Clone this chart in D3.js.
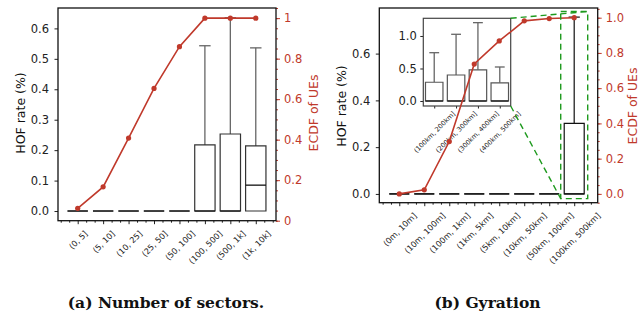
<!DOCTYPE html>
<html>
<head>
<meta charset="utf-8">
<script src="https://d3js.org/d3.v7.min.js"></script>
<style>
  body { margin: 0; background: #fff; }
  text { font-family: "DejaVu Sans", sans-serif; }
  .caption { font-family: "DejaVu Serif", serif; font-weight: bold; }
</style>
</head>
<body>
<div id="chart"></div>
<script>
// ---- data ----
const catsA = ["(0, 5]", "(5, 10]", "(10, 25]", "(25, 50]", "(50, 100]", "(100, 500]", "(500, 1k]", "(1k, 10k]"];
const ecdfA = [0.061, 0.167, 0.408, 0.653, 0.859, 1.0, 1.0, 1.0];
const q3A = [0, 0, 0, 0, 0, 0.217, 0.253, 0.214];
const medA = [0, 0, 0, 0, 0, 0, 0, 0.085];
const whiskA = [0, 0, 0, 0, 0, 0.543, 0.635, 0.536];

const catsB = ["(0m, 10m]", "(10m, 100m]", "(100m, 1km]", "(1km, 5km]", "(5km, 10km]", "(10km, 50km]", "(50km, 100km]", "(100km, 500km]"];
const ecdfB = [0.0, 0.023, 0.297, 0.737, 0.868, 0.982, 0.995, 1.0];
const q3B = [0, 0, 0, 0, 0, 0, 0, 0.302];
const medB = [0, 0, 0, 0, 0, 0, 0, 0];
const whiskB = [0, 0, 0, 0, 0, 0, 0, 0.756];

const catsIn = ["(100km, 200km]", "(200km, 300km]", "(300km, 400km]", "(400km, 500km]"];
const q3In = [0.288, 0.40, 0.48, 0.28];
const medIn = [0, 0, 0, 0];
const whiskIn = [0.743, 1.026, 1.205, 0.523];

const hofTicksA = [0, 0.1, 0.2, 0.3, 0.4, 0.5, 0.6];
const ecdfTicksA = [0, 0.2, 0.4, 0.6, 0.8, 1];
const hofTicksB = [0, 0.2, 0.4, 0.6];
const ecdfTicksB = [0, 0.2, 0.4, 0.6, 0.8, 1.0];
const inTicks = [0, 0.5, 1.0];

const RED = "#c0392b";
const GREEN = "#1e9a1e";
const W = 639, H = 320;

const svg = d3.select("#chart").append("svg")
  .attr("width", W).attr("height", H);

function styleAxis(g, color, fs) {
  g.select(".domain").remove();
  g.selectAll("line").attr("stroke", color).attr("stroke-width", 1);
  g.selectAll("text").attr("fill", color).style("font-size", fs + "px")
    .style("font-family", "DejaVu Sans");
}

function minorsFor(dom, step) {
  let out = [];
  for (let v = Math.ceil(dom[0] / step) * step; v <= dom[1] + 1e-9; v += step) {
    out.push(Math.round(v * 1000) / 1000);
  }
  return out;
}

function xAxis(g, x, cats, y, fs, top, tickLen, minorLen) {
  let n = cats.length;
  let minors = [];
  for (let i = -1; i <= n; i++) {
    [1/3, 2/3].forEach(f => {
      let v = i + f;
      if (v >= x.domain()[0] && v <= x.domain()[1]) minors.push(v);
    });
  }
  if (minorLen > 0) {
    g.append("g").attr("transform", `translate(0,${y})`)
      .call(d3.axisBottom(x).tickValues(minors).tickSize(minorLen).tickFormat(""))
      .call(a => styleAxis(a, "#222", fs));
  }
  let ax = g.append("g").attr("transform", `translate(0,${y})`)
    .call(d3.axisBottom(x).tickValues(d3.range(n)).tickSize(tickLen).tickSizeOuter(0)
      .tickFormat(i => cats[i]))
    .call(a => styleAxis(a, "#222", fs));
  // rotated labels, centred under the tick like matplotlib's rotation=45
  ax.selectAll("text").each(function () {
    let t = d3.select(this);
    let w = this.getComputedTextLength();
    let hh = (w + fs) * Math.SQRT1_2;
    t.attr("y", 0).attr("dy", null)
      .attr("dominant-baseline", "central")
      .attr("text-anchor", "middle")
      .attr("transform", `translate(0,${top + hh / 2}) rotate(-45)`);
  });
}

function boxes(g, x, y, q3, med, whisk, boxCol, whiskCol, bw, cw) {
  q3.forEach((v, i) => {
    let cx = x(i);
    let xl = x(i - bw / 2), xr = x(i + bw / 2);
    if (whisk[i] > v) {
      g.append("line")
        .attr("x1", cx).attr("x2", cx)
        .attr("y1", y(v)).attr("y2", y(whisk[i]))
        .attr("stroke", whiskCol).attr("stroke-width", 1.3);
      g.append("line")
        .attr("x1", x(i - cw / 2)).attr("x2", x(i + cw / 2))
        .attr("y1", y(whisk[i])).attr("y2", y(whisk[i]))
        .attr("stroke", whiskCol).attr("stroke-width", 1.3);
    }
    g.append("path")
      .attr("d", `M${xl},${y(0)}H${xr}V${y(v)}H${xl}Z`)
      .attr("fill", "#fff")
      .attr("stroke", boxCol).attr("stroke-width", 1.2);
    g.append("line")
      .attr("x1", xl).attr("x2", xr)
      .attr("y1", y(med[i])).attr("y2", y(med[i]))
      .attr("stroke", "#111").attr("stroke-width", 1.3);
  });
}

function panel(c) {
  let g = svg.append("g");
  let x = d3.scaleLinear().domain(c.catDomain).range([c.x0, c.x1]);
  let y = d3.scaleLinear().domain(c.hofDomain).range([c.y1, c.y0]);
  let y2 = d3.scaleLinear().domain(c.ecdfDomain).range([c.y1, c.y0]);

  boxes(g, x, y, c.q3, c.med, c.whisk, c.boxCol, c.whiskCol, 0.8, 0.45);

  g.append("g").attr("transform", `translate(${c.x0},0)`)
    .call(d3.axisLeft(y).tickValues(c.hofTicks).tickSize(3.5).tickPadding(5.5)
      .tickFormat(d3.format(".1f")))
    .call(a => styleAxis(a, "#222", 11.5));

  g.append("g").attr("transform", `translate(${c.x1},0)`)
    .call(d3.axisRight(y2).tickValues(minorsFor(c.ecdfDomain, 0.05)).tickSize(2).tickFormat(""))
    .call(a => styleAxis(a, RED, 11.5));
  g.append("g").attr("transform", `translate(${c.x1},0)`)
    .call(d3.axisRight(y2).tickValues(c.ecdfTicks).tickSize(4).tickPadding(4)
      .tickFormat(c.ecdfFmt))
    .call(a => styleAxis(a, RED, 11.5));

  xAxis(g, x, c.cats, c.y1, 8.2, 8.5, 3.5, 2);

  g.append("rect")
    .attr("x", c.x0).attr("y", c.y0)
    .attr("width", c.x1 - c.x0).attr("height", c.y1 - c.y0)
    .attr("fill", "none").attr("stroke", "#111").attr("stroke-width", 1.3);

  g.append("text")
    .attr("transform", `translate(${c.lblL},${c.lblY}) rotate(-90)`)
    .attr("text-anchor", "middle")
    .style("font-size", "12.5px").attr("fill", "#111")
    .text("HOF rate (%)");
  g.append("text")
    .attr("transform", `translate(${c.lblR},${c.lblY}) rotate(-90)`)
    .attr("text-anchor", "middle")
    .style("font-size", "12.5px").attr("fill", RED)
    .text("ECDF of UEs");

  g.append("text").attr("class", "caption")
    .attr("x", c.capX).attr("y", 308)
    .attr("text-anchor", "middle")
    .style("font-size", "15.5px").attr("fill", "#111")
    .text(c.caption);

  return {g, x, y, y2};
}

function ecdfLine(p, vals) {
  let line = d3.line().x((d, i) => p.x(i)).y(d => p.y2(d));
  p.g.append("path").datum(vals)
    .attr("d", line).attr("fill", "none")
    .attr("stroke", RED).attr("stroke-width", 1.6);
  p.g.selectAll(".pt").data(vals).enter().append("circle")
    .attr("cx", (d, i) => p.x(i)).attr("cy", d => p.y2(d))
    .attr("r", 2.6).attr("fill", RED);
}

// ---- panel (a) ----
let pa = panel({
  x0: 58, x1: 276, y0: 8, y1: 220.7,
  cats: catsA, catDomain: [-0.774, 7.795],
  hofDomain: [-0.0318, 0.667], hofTicks: hofTicksA,
  ecdfDomain: [0, 1.05], ecdfTicks: ecdfTicksA, ecdfFmt: d3.format("~g"),
  q3: q3A, med: medA, whisk: whiskA, boxCol: "#333", whiskCol: "#666",
  lblL: 24.5, lblR: 317.5, lblY: 113,
  capX: 166, caption: "(a) Number of sectors."
});
ecdfLine(pa, ecdfA);

// ---- panel (b) ----
let pb = panel({
  x0: 379.3, x1: 597.7, y0: 8, y1: 202.7,
  cats: catsB, catDomain: [-0.8, 7.94],
  hofDomain: [-0.0375, 0.795], hofTicks: hofTicksB,
  ecdfDomain: [-0.05, 1.055], ecdfTicks: ecdfTicksB, ecdfFmt: d3.format(".1f"),
  q3: q3B, med: medB, whisk: whiskB, boxCol: "#111", whiskCol: "#222",
  lblL: 345.5, lblR: 636.5, lblY: 106,
  capX: 487.5, caption: "(b) Gyration"
});

// inset
const ins = {x0: 423.3, x1: 510.7, y0: 18.3, y1: 106};
let gi = pb.g.append("g");
let xi = d3.scaleLinear().domain([-0.5, 3.5]).range([ins.x0, ins.x1]);
let yi = d3.scaleLinear().domain([-0.077, 1.272]).range([ins.y1, ins.y0]);
gi.append("rect").attr("x", ins.x0).attr("y", ins.y0)
  .attr("width", ins.x1 - ins.x0).attr("height", ins.y1 - ins.y0)
  .attr("fill", "#fff");
boxes(gi, xi, yi, q3In, medIn, whiskIn, "#555", "#666", 0.8, 0.45);
gi.append("g").attr("transform", `translate(${ins.x0},0)`)
  .call(d3.axisLeft(yi).tickValues(inTicks).tickSize(3).tickPadding(3.5)
    .tickFormat(d3.format(".1f")))
  .call(a => styleAxis(a, "#222", 11.5));
xAxis(gi, xi, catsIn, ins.y1, 6.6, 4.5, 2.5, 0);
gi.append("rect").attr("x", ins.x0).attr("y", ins.y0)
  .attr("width", ins.x1 - ins.x0).attr("height", ins.y1 - ins.y0)
  .attr("fill", "none").attr("stroke", "#444").attr("stroke-width", 1.2);

ecdfLine(pb, ecdfB);

// zoom marker
let rx0 = pb.x(7 - 0.54), rx1 = pb.x(7 + 0.54);
let ry0 = pb.y(0.78), ry1 = pb.y(-0.02);
let gz = pb.g.append("g")
  .attr("fill", "none").attr("stroke", GREEN)
  .attr("stroke-width", 1.4).attr("stroke-dasharray", "6,4");
gz.append("rect").attr("x", rx0).attr("y", ry0)
  .attr("width", rx1 - rx0).attr("height", ry1 - ry0);
gz.append("line").attr("x1", ins.x1).attr("y1", ins.y0).attr("x2", rx1).attr("y2", ry0);
gz.append("line").attr("x1", ins.x1).attr("y1", ins.y1).attr("x2", rx0).attr("y2", ry1);
</script>
</body>
</html>
